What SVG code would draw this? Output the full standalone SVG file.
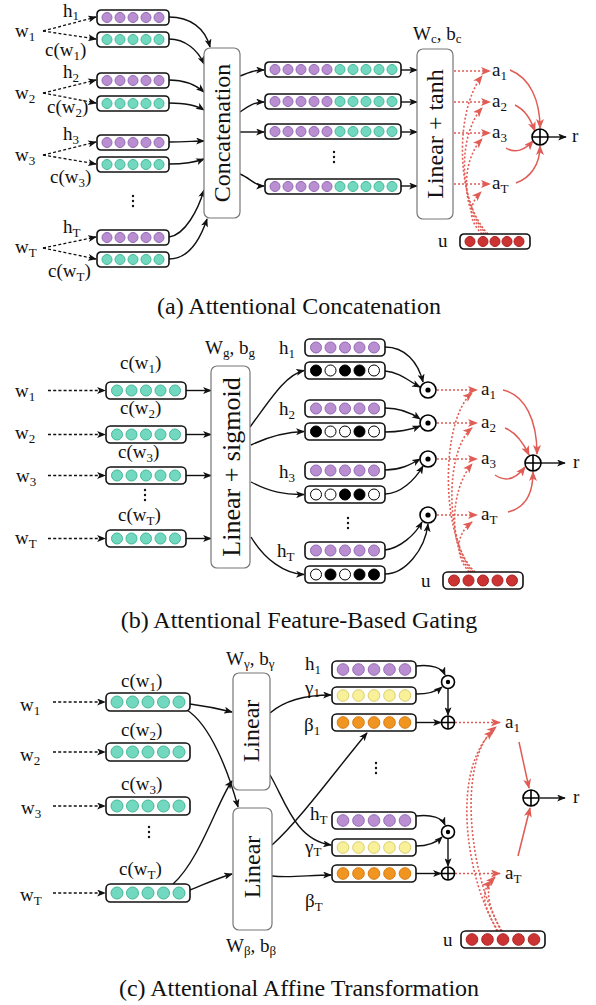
<svg xmlns="http://www.w3.org/2000/svg" width="596" height="1005" viewBox="0 0 596 1005" font-family="'Liberation Serif', 'Times New Roman', Times, serif">
<style>
text, tspan {font-family:'Liberation Serif', 'Times New Roman', Times, serif; fill:#111}
.lb{font-size:19px}
.sub{font-size:13px}
.big{font-size:24px}
.cap{font-size:24px}
.vb{fill:#fff;stroke:#111;stroke-width:1.6}
.bx{fill:#fff;stroke:#777;stroke-width:1.2}
.P{fill:#b98fd2;stroke:#9468b4;stroke-width:1}
.G{fill:#72d8bf;stroke:#45b898;stroke-width:1}
.Y{fill:#f8f19a;stroke:#dccd6a;stroke-width:1}
.O{fill:#f0951f;stroke:#d7770f;stroke-width:1}
.R{fill:#cc3333;stroke:#aa2222;stroke-width:1}
.K{fill:#000;stroke:#000;stroke-width:1}
.W{fill:#fff;stroke:#000;stroke-width:1}
.s{fill:none;stroke:#111;stroke-width:1.4}
.d{fill:none;stroke:#111;stroke-width:1.3;stroke-dasharray:3 2.2}
.rs{fill:none;stroke:#e05c55;stroke-width:1.5}
.rd{fill:none;stroke:#e05c55;stroke-width:1.6;stroke-dasharray:2 2}
.op{fill:#fff;stroke:#000;stroke-width:1.6}
</style>
<defs>
<marker id="ah" viewBox="0 0 10 8" refX="9" refY="4" markerWidth="9" markerHeight="7" orient="auto" markerUnits="userSpaceOnUse"><path d="M0,0 L10,4 L0,8 L2.5,4 z" fill="#111"/></marker>
<marker id="rh" viewBox="0 0 10 8" refX="9" refY="4" markerWidth="10" markerHeight="8" orient="auto" markerUnits="userSpaceOnUse"><path d="M0,0 L10,4 L0,8 L2.5,4 z" fill="#e05c55"/></marker>
<g id="aP"><rect class="vb" x="0" y="0" width="72" height="15" rx="4"/><circle class="P" cx="10" cy="7.5" r="5"/><circle class="P" cx="23" cy="7.5" r="5"/><circle class="P" cx="36" cy="7.5" r="5"/><circle class="P" cx="49" cy="7.5" r="5"/><circle class="P" cx="62" cy="7.5" r="5"/></g>
<g id="aG"><rect class="vb" x="0" y="0" width="72" height="15" rx="4"/><circle class="G" cx="10" cy="7.5" r="5"/><circle class="G" cx="23" cy="7.5" r="5"/><circle class="G" cx="36" cy="7.5" r="5"/><circle class="G" cx="49" cy="7.5" r="5"/><circle class="G" cx="62" cy="7.5" r="5"/></g>
<g id="aR"><rect class="vb" x="0" y="0" width="70" height="15" rx="4"/><circle class="R" cx="10" cy="7.5" r="5"/><circle class="R" cx="23" cy="7.5" r="5"/><circle class="R" cx="35" cy="7.5" r="5"/><circle class="R" cx="47" cy="7.5" r="5"/><circle class="R" cx="59" cy="7.5" r="5"/></g>
<g id="aC"><rect class="vb" x="0" y="0" width="136" height="15" rx="4"/><circle class="P" cx="10" cy="7.5" r="5"/><circle class="P" cx="23" cy="7.5" r="5"/><circle class="P" cx="36" cy="7.5" r="5"/><circle class="P" cx="49" cy="7.5" r="5"/><circle class="P" cx="62" cy="7.5" r="5"/><circle class="G" cx="75" cy="7.5" r="5"/><circle class="G" cx="88" cy="7.5" r="5"/><circle class="G" cx="101" cy="7.5" r="5"/><circle class="G" cx="114" cy="7.5" r="5"/><circle class="G" cx="127" cy="7.5" r="5"/></g>
<g id="bP"><rect class="vb" x="0" y="0" width="80" height="17" rx="4.5"/><circle class="P" cx="11" cy="8.5" r="5.5"/><circle class="P" cx="25.5" cy="8.5" r="5.5"/><circle class="P" cx="40" cy="8.5" r="5.5"/><circle class="P" cx="54.5" cy="8.5" r="5.5"/><circle class="P" cx="69" cy="8.5" r="5.5"/></g>
<g id="bG"><rect class="vb" x="0" y="0" width="80" height="17" rx="4.5"/><circle class="G" cx="11" cy="8.5" r="5.5"/><circle class="G" cx="25.5" cy="8.5" r="5.5"/><circle class="G" cx="40" cy="8.5" r="5.5"/><circle class="G" cx="54.5" cy="8.5" r="5.5"/><circle class="G" cx="69" cy="8.5" r="5.5"/></g>
<g id="bR"><rect class="vb" x="0" y="0" width="80" height="17" rx="4.5"/><circle class="R" cx="11" cy="8.5" r="5.5"/><circle class="R" cx="25.5" cy="8.5" r="5.5"/><circle class="R" cx="40" cy="8.5" r="5.5"/><circle class="R" cx="54.5" cy="8.5" r="5.5"/><circle class="R" cx="69" cy="8.5" r="5.5"/></g>
<g id="cP"><rect class="vb" x="0" y="0" width="84" height="17" rx="4.5"/><circle class="P" cx="11" cy="8.5" r="5.8"/><circle class="P" cx="26.5" cy="8.5" r="5.8"/><circle class="P" cx="42" cy="8.5" r="5.8"/><circle class="P" cx="57.5" cy="8.5" r="5.8"/><circle class="P" cx="73" cy="8.5" r="5.8"/></g>
<g id="cG"><rect class="vb" x="0" y="0" width="84" height="18" rx="4.5"/><circle class="G" cx="11" cy="9" r="6"/><circle class="G" cx="26.5" cy="9" r="6"/><circle class="G" cx="42" cy="9" r="6"/><circle class="G" cx="57.5" cy="9" r="6"/><circle class="G" cx="73" cy="9" r="6"/></g>
<g id="cY"><rect class="vb" x="0" y="0" width="84" height="17" rx="4.5"/><circle class="Y" cx="11" cy="8.5" r="5.8"/><circle class="Y" cx="26.5" cy="8.5" r="5.8"/><circle class="Y" cx="42" cy="8.5" r="5.8"/><circle class="Y" cx="57.5" cy="8.5" r="5.8"/><circle class="Y" cx="73" cy="8.5" r="5.8"/></g>
<g id="cO"><rect class="vb" x="0" y="0" width="84" height="17" rx="4.5"/><circle class="O" cx="11" cy="8.5" r="5.8"/><circle class="O" cx="26.5" cy="8.5" r="5.8"/><circle class="O" cx="42" cy="8.5" r="5.8"/><circle class="O" cx="57.5" cy="8.5" r="5.8"/><circle class="O" cx="73" cy="8.5" r="5.8"/></g>
<g id="cR"><rect class="vb" x="0" y="0" width="84" height="17" rx="4.5"/><circle class="R" cx="11" cy="8.5" r="5.8"/><circle class="R" cx="26.5" cy="8.5" r="5.8"/><circle class="R" cx="42" cy="8.5" r="5.8"/><circle class="R" cx="57.5" cy="8.5" r="5.8"/><circle class="R" cx="73" cy="8.5" r="5.8"/></g>
<g id="plus8"><circle class="op" r="8"/><path d="M-8,0H8M0,-8V8" stroke="#000" stroke-width="1.6"/></g>
<g id="dot8"><circle class="op" r="8"/><circle r="2.6" fill="#000"/></g>
<g id="plus6"><circle class="op" r="6.5"/><path d="M-6.5,0H6.5M0,-6.5V6.5" stroke="#000" stroke-width="1.5"/></g>
<g id="dot6"><circle class="op" r="6.5"/><circle r="2.2" fill="#000"/></g>
</defs>
<rect width="596" height="1005" fill="#fff"/>

<!-- ================= Panel (a) ================= -->
<g id="a-connectors">
<path class="d" marker-end="url(#ah)" d="M43,31 L96,17"/>
<path class="d" marker-end="url(#ah)" d="M43,31 L96,39"/>
<path class="d" marker-end="url(#ah)" d="M43,93 L96,80"/>
<path class="d" marker-end="url(#ah)" d="M43,93 L96,103"/>
<path class="d" marker-end="url(#ah)" d="M43,155 L96,142"/>
<path class="d" marker-end="url(#ah)" d="M43,155 L96,164"/>
<path class="d" marker-end="url(#ah)" d="M43,248 L96,237"/>
<path class="d" marker-end="url(#ah)" d="M43,248 L96,259"/>
<path class="s" marker-end="url(#ah)" d="M169,17 C190,17 205,28 210,47"/>
<path class="s" marker-end="url(#ah)" d="M169,39 C185,39 198,50 204,64"/>
<path class="s" marker-end="url(#ah)" d="M169,80 C185,80 196,85 204,92"/>
<path class="s" marker-end="url(#ah)" d="M169,103 C185,103 196,105 204,110"/>
<path class="s" marker-end="url(#ah)" d="M169,142 C185,142 195,141 204,141"/>
<path class="s" marker-end="url(#ah)" d="M169,164 C185,164 196,162 204,159"/>
<path class="s" marker-end="url(#ah)" d="M169,237 C185,235 198,210 204,190"/>
<path class="s" marker-end="url(#ah)" d="M169,259 C188,259 200,240 207,219"/>
<path class="s" marker-end="url(#ah)" d="M240,76 C250,72 255,70 264,70"/>
<path class="s" marker-end="url(#ah)" d="M240,112 C250,105 255,102 264,102"/>
<path class="s" marker-end="url(#ah)" d="M240,132 L264,132"/>
<path class="s" marker-end="url(#ah)" d="M240,174 C250,178 255,186 264,186"/>
<path class="s" marker-end="url(#ah)" d="M401,70 L417,70"/>
<path class="s" marker-end="url(#ah)" d="M401,102 L417,102"/>
<path class="s" marker-end="url(#ah)" d="M401,132 L417,132"/>
<path class="s" marker-end="url(#ah)" d="M401,186 L417,186"/>
<path class="rd" marker-end="url(#rh)" d="M454,71 L490,71"/>
<path class="rd" marker-end="url(#rh)" d="M454,102 L490,102"/>
<path class="rd" marker-end="url(#rh)" d="M454,133 L490,133"/>
<path class="rd" marker-end="url(#rh)" d="M454,184 L490,184"/>
<path class="rd" marker-end="url(#rh)" d="M488,234 C455,200 455,110 482,76"/>
<path class="rd" marker-end="url(#rh)" d="M486,234 C458,200 458,135 482,108"/>
<path class="rd" marker-end="url(#rh)" d="M484,234 C460,205 462,160 482,139"/>
<path class="rd" marker-end="url(#rh)" d="M482,234 C468,220 468,205 481,192"/>
<path class="rs" marker-end="url(#rh)" d="M510,70 C530,78 540,100 540,128"/>
<path class="rs" marker-end="url(#rh)" d="M515,105 C525,110 530,118 535,131"/>
<path class="rs" marker-end="url(#rh)" d="M506,148 C515,154 525,150 533,141"/>
<path class="rs" marker-end="url(#rh)" d="M516,183 C530,178 540,165 540,146"/>
<path class="s" marker-end="url(#ah)" d="M548,137 L566,137"/>
</g>

<g id="a-inputs">
<text class="lb" x="15" y="37">w<tspan class="sub" dy="4">1</tspan></text>
<text class="lb" x="15" y="99">w<tspan class="sub" dy="4">2</tspan></text>
<text class="lb" x="15" y="161">w<tspan class="sub" dy="4">3</tspan></text>
<text class="lb" x="15" y="253">w<tspan class="sub" dy="4">T</tspan></text>
<text class="lb" x="63" y="17">h<tspan class="sub" dy="3">1</tspan></text>
<text class="lb" x="63" y="78">h<tspan class="sub" dy="4">2</tspan></text>
<text class="lb" x="63" y="140">h<tspan class="sub" dy="4">3</tspan></text>
<text class="lb" x="63" y="233">h<tspan class="sub" dy="4">T</tspan></text>
<text class="lb" x="45" y="56">c(w<tspan class="sub" dy="4">1</tspan><tspan dy="-4">)</tspan></text>
<text class="lb" x="47" y="113">c(w<tspan class="sub" dy="4">2</tspan><tspan dy="-4">)</tspan></text>
<text class="lb" x="50" y="183">c(w<tspan class="sub" dy="4">3</tspan><tspan dy="-4">)</tspan></text>
<text class="lb" x="48" y="277">c(w<tspan class="sub" dy="4">T</tspan><tspan dy="-4">)</tspan></text>
</g>
<g id="a-h1"><use href="#aP" x="97" y="10"/></g>
<g id="a-c1"><use href="#aG" x="97" y="32"/></g>
<g id="a-h2"><use href="#aP" x="97" y="73"/></g>
<g id="a-c2"><use href="#aG" x="97" y="96"/></g>
<g id="a-h3"><use href="#aP" x="97" y="135"/></g>
<g id="a-c3"><use href="#aG" x="97" y="157"/></g>
<g id="a-dots1"><circle cx="133" cy="196" r="1.2" fill="#111"/><circle cx="133" cy="201" r="1.2" fill="#111"/><circle cx="133" cy="206" r="1.2" fill="#111"/></g>
<g id="a-hT"><use href="#aP" x="97" y="230"/></g>
<g id="a-cT"><use href="#aG" x="97" y="252"/></g>
<g id="a-concat"><rect class="bx" x="204" y="48" width="36" height="170" rx="6"/><text class="big" transform="translate(222,133) rotate(-90)" text-anchor="middle" dominant-baseline="central">Concatenation</text></g>
<g id="a-v1"><use href="#aC" x="265" y="62"/></g>
<g id="a-v2"><use href="#aC" x="265" y="94"/></g>
<g id="a-v3"><use href="#aC" x="265" y="124"/></g>
<g id="a-dots2"><circle cx="334" cy="152" r="1.2" fill="#111"/><circle cx="334" cy="157" r="1.2" fill="#111"/><circle cx="334" cy="162" r="1.2" fill="#111"/></g>
<g id="a-vT"><use href="#aC" x="265" y="179"/></g>
<g id="a-linear"><rect class="bx" x="417" y="49" width="36" height="170" rx="6"/><text class="big" transform="translate(435,134) rotate(-90)" text-anchor="middle" dominant-baseline="central">Linear + tanh</text>
<text class="lb" x="413" y="40">W<tspan class="sub" dy="3">c</tspan><tspan dy="-3">, b</tspan><tspan class="sub" dy="3">c</tspan></text></g>
<g id="a-att">
<text class="lb" x="492" y="76">a<tspan class="sub" dy="4">1</tspan></text>
<text class="lb" x="492" y="107">a<tspan class="sub" dy="4">2</tspan></text>
<text class="lb" x="492" y="138">a<tspan class="sub" dy="4">3</tspan></text>
<text class="lb" x="492" y="189">a<tspan class="sub" dy="4">T</tspan></text>
</g>
<g id="a-sum"><use href="#plus8" x="540" y="137"/><text class="lb" x="572" y="142">r</text></g>
<g id="a-u"><text class="lb" x="438" y="247">u</text><use href="#aR" x="460" y="234"/></g>

<text class="cap" x="299" y="314" text-anchor="middle">(a) Attentional Concatenation</text>

<!-- ================= Panel (b) ================= -->
<g id="b-connectors">
<path class="d" marker-end="url(#ah)" d="M48,390.5 L105,390.5"/>
<path class="d" marker-end="url(#ah)" d="M48,434.5 L105,434.5"/>
<path class="d" marker-end="url(#ah)" d="M48,475.5 L105,475.5"/>
<path class="d" marker-end="url(#ah)" d="M48,538.5 L105,538.5"/>
<path class="s" marker-end="url(#ah)" d="M186,390.5 L211,390.5"/>
<path class="s" marker-end="url(#ah)" d="M186,434.5 L211,434.5"/>
<path class="s" marker-end="url(#ah)" d="M186,475.5 L211,475.5"/>
<path class="s" marker-end="url(#ah)" d="M186,538.5 L211,538.5"/>
<path class="s" marker-end="url(#ah)" d="M250,427 C270,400 285,375 304,370.5"/>
<path class="s" marker-end="url(#ah)" d="M251,445 C270,436 285,432 304,431.5"/>
<path class="s" marker-end="url(#ah)" d="M251,482 C270,492 285,495 304,494.5"/>
<path class="s" marker-end="url(#ah)" d="M251,537 C265,560 285,574 304,574.5"/>
<path class="s" marker-end="url(#ah)" d="M385,347 C405,347 418,362 423,382"/>
<path class="s" marker-end="url(#ah)" d="M385,371 C400,372 410,382 420,387"/>
<path class="s" marker-end="url(#ah)" d="M385,408 C400,408 410,412 420,419"/>
<path class="s" marker-end="url(#ah)" d="M385,432 C400,432 410,430 420,426"/>
<path class="s" marker-end="url(#ah)" d="M385,470 C400,470 410,465 420,459"/>
<path class="s" marker-end="url(#ah)" d="M385,494 C400,494 415,480 423,466"/>
<path class="s" marker-end="url(#ah)" d="M385,550 C400,548 415,535 422,522"/>
<path class="s" marker-end="url(#ah)" d="M385,574 C405,574 425,550 428,524"/>
<path class="rd" marker-end="url(#rh)" d="M437,390 L477,390"/>
<path class="rd" marker-end="url(#rh)" d="M437,423 L477,423"/>
<path class="rd" marker-end="url(#rh)" d="M437,459 L477,459"/>
<path class="rd" marker-end="url(#rh)" d="M437,515 L477,515"/>
<path class="rd" marker-end="url(#rh)" d="M475,572 C440,540 440,420 472,393"/>
<path class="rd" marker-end="url(#rh)" d="M473,572 C445,540 445,450 472,428"/>
<path class="rd" marker-end="url(#rh)" d="M471,572 C448,545 450,490 472,464"/>
<path class="rd" marker-end="url(#rh)" d="M469,572 C455,555 455,535 472,522"/>
<path class="rs" marker-end="url(#rh)" d="M503,390 C525,395 537,420 537,454"/>
<path class="rs" marker-end="url(#rh)" d="M505,428 C515,432 522,440 529,455"/>
<path class="rs" marker-end="url(#rh)" d="M495,475 C505,482 515,480 525,467"/>
<path class="rs" marker-end="url(#rh)" d="M508,512 C525,508 533,495 533,472"/>
<path class="s" marker-end="url(#ah)" d="M541,463 L565,463"/>
</g>
<g id="b-inputs">
<text class="lb" x="15" y="397">w<tspan class="sub" dy="4">1</tspan></text>
<text class="lb" x="15" y="439">w<tspan class="sub" dy="4">2</tspan></text>
<text class="lb" x="16" y="482">w<tspan class="sub" dy="4">3</tspan></text>
<text class="lb" x="15" y="544">w<tspan class="sub" dy="4">T</tspan></text>
<text class="lb" x="120" y="369">c(w<tspan class="sub" dy="4">1</tspan><tspan dy="-4">)</tspan></text>
<text class="lb" x="120" y="414">c(w<tspan class="sub" dy="4">2</tspan><tspan dy="-4">)</tspan></text>
<text class="lb" x="118" y="458">c(w<tspan class="sub" dy="4">3</tspan><tspan dy="-4">)</tspan></text>
<text class="lb" x="118" y="521">c(w<tspan class="sub" dy="4">T</tspan><tspan dy="-4">)</tspan></text>
</g>
<g id="b-c1"><use href="#bG" x="106" y="382"/></g>
<g id="b-c2"><use href="#bG" x="106" y="426"/></g>
<g id="b-c3"><use href="#bG" x="106" y="467"/></g>
<g id="b-dots1"><circle cx="145" cy="490" r="1.2" fill="#111"/><circle cx="145" cy="495" r="1.2" fill="#111"/><circle cx="145" cy="500" r="1.2" fill="#111"/></g>
<g id="b-cT"><use href="#bG" x="106" y="530"/></g>
<g id="b-linear"><rect class="bx" x="211" y="366" width="39" height="202" rx="6"/><text class="big" font-size="26" style="font-size:26px" transform="translate(231,467) rotate(-90)" text-anchor="middle" dominant-baseline="central">Linear + sigmoid</text>
<text class="lb" x="205" y="354">W<tspan class="sub" dy="3">g</tspan><tspan dy="-3">, b</tspan><tspan class="sub" dy="3">g</tspan></text></g>
<g id="b-hlabels">
<text class="lb" x="279" y="354">h<tspan class="sub" dy="4">1</tspan></text>
<text class="lb" x="279" y="415">h<tspan class="sub" dy="4">2</tspan></text>
<text class="lb" x="279" y="478">h<tspan class="sub" dy="4">3</tspan></text>
<text class="lb" x="277" y="557">h<tspan class="sub" dy="4">T</tspan></text>
</g>
<g id="b-h1"><use href="#bP" x="305" y="339"/></g>
<g id="b-g1"><rect class="vb" x="305" y="362" width="80" height="17" rx="4.5"/><circle class="K" cx="316" cy="370.5" r="5.5"/><circle class="W" cx="330.5" cy="370.5" r="5.5"/><circle class="K" cx="345" cy="370.5" r="5.5"/><circle class="K" cx="359.5" cy="370.5" r="5.5"/><circle class="W" cx="374" cy="370.5" r="5.5"/></g>
<g id="b-h2"><use href="#bP" x="305" y="400"/></g>
<g id="b-g2"><rect class="vb" x="305" y="423" width="80" height="17" rx="4.5"/><circle class="K" cx="316" cy="431.5" r="5.5"/><circle class="W" cx="330.5" cy="431.5" r="5.5"/><circle class="W" cx="345" cy="431.5" r="5.5"/><circle class="K" cx="359.5" cy="431.5" r="5.5"/><circle class="W" cx="374" cy="431.5" r="5.5"/></g>
<g id="b-h3"><use href="#bP" x="305" y="462"/></g>
<g id="b-g3"><rect class="vb" x="305" y="486" width="80" height="17" rx="4.5"/><circle class="W" cx="316" cy="494.5" r="5.5"/><circle class="W" cx="330.5" cy="494.5" r="5.5"/><circle class="K" cx="345" cy="494.5" r="5.5"/><circle class="K" cx="359.5" cy="494.5" r="5.5"/><circle class="W" cx="374" cy="494.5" r="5.5"/></g>
<g id="b-dots2"><circle cx="348" cy="518" r="1.2" fill="#111"/><circle cx="348" cy="523" r="1.2" fill="#111"/><circle cx="348" cy="528" r="1.2" fill="#111"/></g>
<g id="b-hT"><use href="#bP" x="305" y="542"/></g>
<g id="b-gT"><rect class="vb" x="305" y="566" width="80" height="17" rx="4.5"/><circle class="W" cx="316" cy="574.5" r="5.5"/><circle class="K" cx="330.5" cy="574.5" r="5.5"/><circle class="W" cx="345" cy="574.5" r="5.5"/><circle class="K" cx="359.5" cy="574.5" r="5.5"/><circle class="K" cx="374" cy="574.5" r="5.5"/></g>
<g id="b-mul1"><use href="#dot8" x="428" y="390"/></g>
<g id="b-mul2"><use href="#dot8" x="428" y="423"/></g>
<g id="b-mul3"><use href="#dot8" x="428" y="459"/></g>
<g id="b-mulT"><use href="#dot8" x="428" y="515"/></g>
<g id="b-att">
<text class="lb" x="481" y="395">a<tspan class="sub" dy="4">1</tspan></text>
<text class="lb" x="481" y="428">a<tspan class="sub" dy="4">2</tspan></text>
<text class="lb" x="481" y="464">a<tspan class="sub" dy="4">3</tspan></text>
<text class="lb" x="481" y="520">a<tspan class="sub" dy="4">T</tspan></text>
</g>
<g id="b-sum"><use href="#plus8" x="533" y="463"/><text class="lb" x="573" y="468">r</text></g>
<g id="b-u"><text class="lb" x="421" y="587">u</text><use href="#bR" x="443" y="572"/></g>

<text class="cap" x="299" y="628" text-anchor="middle">(b) Attentional Feature-Based Gating</text>

<!-- ================= Panel (c) ================= -->
<g id="c-connectors">
<path class="d" marker-end="url(#ah)" d="M53,702 L105,702"/>
<path class="d" marker-end="url(#ah)" d="M53,752 L105,752"/>
<path class="d" marker-end="url(#ah)" d="M53,806 L105,806"/>
<path class="d" marker-end="url(#ah)" d="M53,893 L105,893"/>
<path class="s" marker-end="url(#ah)" d="M190,704 C205,706 220,709 232,712"/>
<path class="s" marker-end="url(#ah)" d="M187,710 C210,725 228,770 238,807"/>
<path class="s" marker-end="url(#ah)" d="M173,884 C200,860 218,800 232,781"/>
<path class="s" marker-end="url(#ah)" d="M190,890 C205,884 218,878 232,874"/>
<path class="s" marker-end="url(#ah)" d="M270,713 C285,700 305,695 331,695"/>
<path class="s" marker-end="url(#ah)" d="M270,775 C285,800 295,840 331,845"/>
<path class="s" marker-end="url(#ah)" d="M272,845 C300,820 340,765 367,733"/>
<path class="s" marker-end="url(#ah)" d="M272,876 C290,878 310,875 331,875"/>
<path class="s" marker-end="url(#ah)" d="M416,666 C432,664 442,668 445,675"/>
<path class="s" marker-end="url(#ah)" d="M416,694 C428,694 436,692 442,687"/>
<path class="s" marker-end="url(#ah)" d="M448,689 L448,715"/>
<path class="s" marker-end="url(#ah)" d="M416,722.5 L441,722.5"/>
<path class="s" marker-end="url(#ah)" d="M416,816 C432,814 442,818 445,825"/>
<path class="s" marker-end="url(#ah)" d="M416,846 C428,846 436,843 442,837"/>
<path class="s" marker-end="url(#ah)" d="M448,839 L448,866"/>
<path class="s" marker-end="url(#ah)" d="M416,873.5 L441,873.5"/>
<path class="rd" marker-end="url(#rh)" d="M455,722.5 L500,722.5"/>
<path class="rd" marker-end="url(#rh)" d="M455,873.5 L500,873.5"/>
<path class="rd" marker-end="url(#rh)" d="M502,931 C470,880 455,760 496,727"/>
<path class="rd" marker-end="url(#rh)" d="M498,931 C466,880 450,770 493,731"/>
<path class="rd" marker-end="url(#rh)" d="M501,931 C491,910 482,890 495,877"/>
<path class="rd" marker-end="url(#rh)" d="M497,931 C487,910 478,895 491,881"/>
<path class="rs" marker-end="url(#rh)" d="M519,742 L529,788"/>
<path class="rs" marker-end="url(#rh)" d="M518,856 L530,808"/>
<path class="s" marker-end="url(#ah)" d="M540,798 L565,798"/>
</g>
<g id="c-inputs">
<text class="lb" x="20" y="711">w<tspan class="sub" dy="4">1</tspan></text>
<text class="lb" x="20" y="761">w<tspan class="sub" dy="4">2</tspan></text>
<text class="lb" x="21" y="814">w<tspan class="sub" dy="4">3</tspan></text>
<text class="lb" x="20" y="901">w<tspan class="sub" dy="4">T</tspan></text>
<text class="lb" x="121" y="687">c(w<tspan class="sub" dy="4">1</tspan><tspan dy="-4">)</tspan></text>
<text class="lb" x="121" y="736">c(w<tspan class="sub" dy="4">2</tspan><tspan dy="-4">)</tspan></text>
<text class="lb" x="121" y="790">c(w<tspan class="sub" dy="4">3</tspan><tspan dy="-4">)</tspan></text>
<text class="lb" x="119" y="875">c(w<tspan class="sub" dy="4">T</tspan><tspan dy="-4">)</tspan></text>
</g>
<g id="c-c1"><use href="#cG" x="106" y="693"/></g>
<g id="c-c2"><use href="#cG" x="106" y="743"/></g>
<g id="c-c3"><use href="#cG" x="106" y="797"/></g>
<g id="c-dots1"><circle cx="149" cy="827" r="1.2" fill="#111"/><circle cx="149" cy="832" r="1.2" fill="#111"/><circle cx="149" cy="837" r="1.2" fill="#111"/></g>
<g id="c-cT"><use href="#cG" x="106" y="884"/></g>
<g id="c-linear-g"><rect class="bx" x="233" y="673" width="37" height="117" rx="6"/><text class="big" transform="translate(251,731) rotate(-90)" text-anchor="middle" dominant-baseline="central">Linear</text>
<text class="lb" x="226" y="665">W<tspan class="sub" dy="3">γ</tspan><tspan dy="-3">, b</tspan><tspan class="sub" dy="3">γ</tspan></text></g>
<g id="c-linear-b"><rect class="bx" x="233" y="808" width="39" height="122" rx="6"/><text class="big" transform="translate(252,867) rotate(-90)" text-anchor="middle" dominant-baseline="central">Linear</text>
<text class="lb" x="226" y="952">W<tspan class="sub" dy="3">β</tspan><tspan dy="-3">, b</tspan><tspan class="sub" dy="3">β</tspan></text></g>
<g id="c-labels">
<text class="lb" x="305" y="670">h<tspan class="sub" dy="4">1</tspan></text>
<text class="lb" x="305" y="694">γ<tspan class="sub" dy="3">1</tspan></text>
<text class="lb" x="304" y="731" font-size="20">β<tspan class="sub" dy="4">1</tspan></text>
<text class="lb" x="310" y="820">h<tspan class="sub" dy="4">T</tspan></text>
<text class="lb" x="305" y="853">γ<tspan class="sub" dy="3">T</tspan></text>
<text class="lb" x="305" y="907" font-size="20">β<tspan class="sub" dy="4">T</tspan></text>
</g>
<g id="c-h1"><use href="#cP" x="332" y="661"/></g>
<g id="c-g1"><use href="#cY" x="332" y="687"/></g>
<g id="c-b1"><use href="#cO" x="332" y="714"/></g>
<g id="c-dots2"><circle cx="376" cy="763" r="1.2" fill="#111"/><circle cx="376" cy="768" r="1.2" fill="#111"/><circle cx="376" cy="773" r="1.2" fill="#111"/></g>
<g id="c-hT"><use href="#cP" x="332" y="812"/></g>
<g id="c-gT"><use href="#cY" x="332" y="839"/></g>
<g id="c-bT"><use href="#cO" x="332" y="865"/></g>
<g id="c-mul1"><use href="#dot6" x="448" y="682"/></g>
<g id="c-add1"><use href="#plus6" x="448" y="722.5"/></g>
<g id="c-mulT"><use href="#dot6" x="448" y="832"/></g>
<g id="c-addT"><use href="#plus6" x="448" y="873.5"/></g>
<g id="c-att">
<text class="lb" x="505" y="728">a<tspan class="sub" dy="4">1</tspan></text>
<text class="lb" x="505" y="879">a<tspan class="sub" dy="4">T</tspan></text>
</g>
<g id="c-sum"><use href="#plus8" x="531" y="798"/><text class="lb" x="573" y="803">r</text></g>
<g id="c-u"><text class="lb" x="443" y="946">u</text><use href="#cR" x="461" y="931"/></g>

<text class="cap" x="299" y="996" text-anchor="middle">(c) Attentional Affine Transformation</text>
</svg>
